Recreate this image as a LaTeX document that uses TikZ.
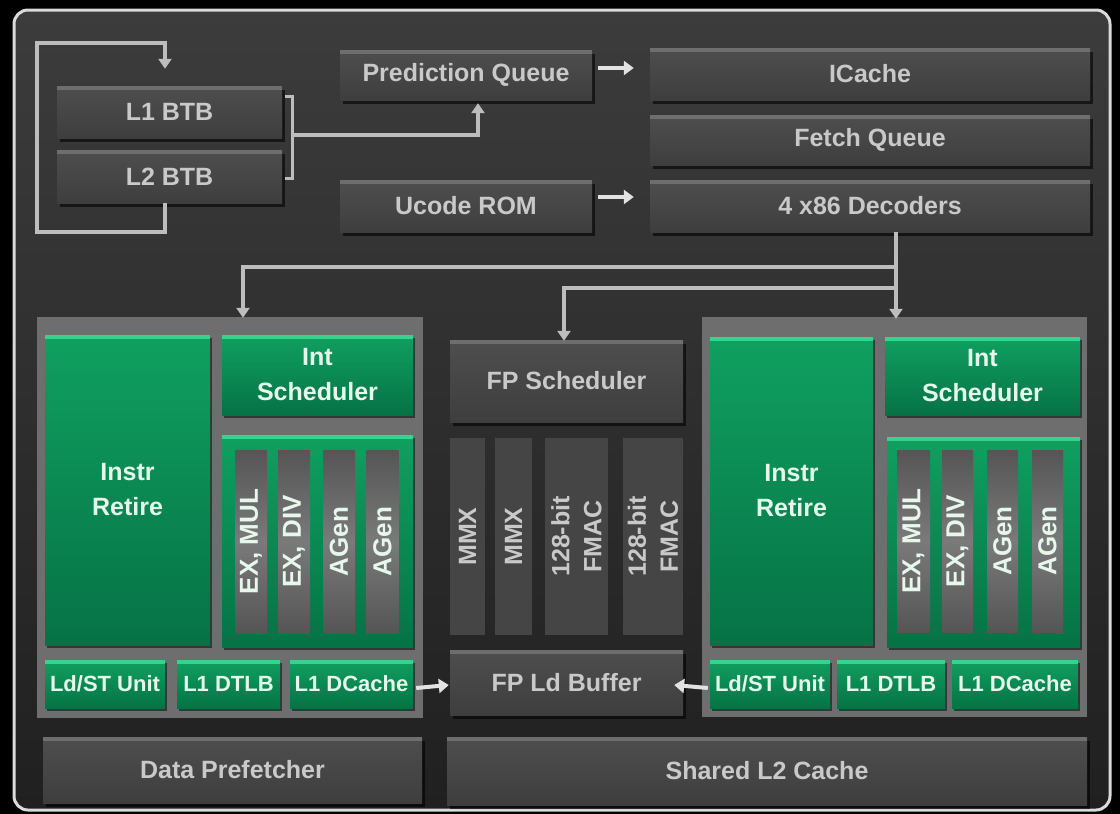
\documentclass[tikz,border=0pt]{standalone}
\usepackage{fontspec}
\setmainfont{Liberation Sans}
\usetikzlibrary{arrows.meta,shadows}
\definecolor{frameC}{HTML}{DADADA}
\definecolor{bgT}{HTML}{3C3C3C}
\definecolor{bgB}{HTML}{202020}
\definecolor{boxT}{HTML}{4E4E4E}
\definecolor{boxB}{HTML}{3E3E3E}
\definecolor{boxHL}{HTML}{6E6E6E}
\definecolor{txtG}{HTML}{C9C9C9}
\definecolor{grT}{HTML}{10A060}
\definecolor{grB}{HTML}{067246}
\definecolor{grHL}{HTML}{35D38C}
\definecolor{txtW}{HTML}{E6F7EC}
\definecolor{cluC}{HTML}{6E6E6E}
\definecolor{barM}{HTML}{7A7A7A}
\definecolor{barE}{HTML}{555555}
\definecolor{fbarC}{HTML}{454545}
\definecolor{lineC}{HTML}{BDBDBD}
\definecolor{arrW}{HTML}{E2E2E2}
\begin{document}
\begin{tikzpicture}[x=1pt,y=-1pt,
  base/.style={rectangle, inner sep=0pt, align=center, font=\bfseries\fontsize{25}{27}\selectfont},
  gbox/.style={base, top color=boxT, bottom color=boxB, text=txtG,
    drop shadow={shadow xshift=3pt,shadow yshift=-4pt,opacity=0.6,fill=black},
    path picture={\fill[boxHL] (path picture bounding box.north west) rectangle ([yshift=-4pt]path picture bounding box.north east);}},
  gnbox/.style={base, top color=grT, bottom color=grB, text=txtW,
    drop shadow={shadow xshift=2pt,shadow yshift=-3pt,opacity=0.5,fill=black},
    path picture={\fill[grHL] (path picture bounding box.north west) rectangle ([yshift=-4pt]path picture bounding box.north east);}},
  small/.style={font=\bfseries\fontsize{22}{24}\selectfont},
  twoline/.style={font=\bfseries\fontsize{25}{35}\selectfont},
  clu/.style={rectangle, inner sep=0pt, fill=cluC},
  ibar/.style={base, rotate=90, top color=barE, bottom color=barE, middle color=barM, text=txtW,
    font=\bfseries\fontsize{26}{28}\selectfont},
  fbar/.style={base, rotate=90, fill=fbarC, text=txtG, font=\bfseries\fontsize{25}{32}\selectfont},
  conn/.style={draw=lineC, line width=4pt},
  tip/.style={-{Triangle[length=10pt,width=13pt]}},
  wconn/.style={draw=arrW, line width=4pt, -{Triangle[length=10pt,width=14pt]}}
]
\useasboundingbox (0,0) rectangle (1120,814);
\fill[black] (0,0) rectangle (1120,814);
\draw[draw=frameC, line width=3pt, rounded corners=14pt, top color=bgT, bottom color=bgB] (14,10) rectangle (1110,810);

% front end
\node[gbox, minimum width=225, minimum height=52] (l1btb) at (169.5,112) {L1 BTB};
\node[gbox, minimum width=225, minimum height=53] (l2btb) at (169.5,176.5) {L2 BTB};
\node[gbox, minimum width=252, minimum height=50] (pq) at (466,75) {Prediction Queue};
\node[gbox, minimum width=440, minimum height=52] (ic) at (870,74) {ICache};
\node[gbox, minimum width=440, minimum height=50] (fq) at (870,140) {Fetch Queue};
\node[gbox, minimum width=252, minimum height=52] (uc) at (466,206) {Ucode ROM};
\node[gbox, minimum width=440, minimum height=52] (dec) at (870,206) {4 x86 Decoders};

% clusters
\node[clu, minimum width=386, minimum height=401] (lclu) at (230,517.5) {};
\node[clu, minimum width=385, minimum height=400] (rclu) at (894.5,517) {};

% left cluster
\node[gnbox, twoline, minimum width=165, minimum height=310] (lir) at (127.5,490) {Instr\\Retire};
\node[gnbox, twoline, minimum width=191, minimum height=80] (lis) at (317.5,375) {Int\\Scheduler};
\node[gnbox, minimum width=191, minimum height=212] (lex) at (317.5,541) {};
\node[ibar, minimum width=183, minimum height=32] (lb1) at (251,541.5) {EX, MUL};
\node[ibar, minimum width=183, minimum height=32] (lb2) at (294,541.5) {EX, DIV};
\node[ibar, minimum width=183, minimum height=32] (lb3) at (339,541.5) {AGen};
\node[ibar, minimum width=183, minimum height=32] (lb4) at (382.5,541.5) {AGen};
\node[gnbox, small, minimum width=120, minimum height=48] (lls) at (105,684) {Ld/ST Unit};
\node[gnbox, small, minimum width=103, minimum height=48] (ldt) at (228.5,684) {L1 DTLB};
\node[gnbox, small, minimum width=123, minimum height=48] (ldc) at (351.5,684) {L1 DCache};

% right cluster
\node[gnbox, twoline, minimum width=163, minimum height=308] (rir) at (791.5,491) {Instr\\Retire};
\node[gnbox, twoline, minimum width=195, minimum height=78] (ris) at (982.5,376) {Int\\Scheduler};
\node[gnbox, minimum width=193, minimum height=210] (rex) at (983.5,542) {};
\node[ibar, minimum width=182, minimum height=33] (rb1) at (913.5,541) {EX, MUL};
\node[ibar, minimum width=182, minimum height=31] (rb2) at (957.5,541) {EX, DIV};
\node[ibar, minimum width=182, minimum height=31] (rb3) at (1002.5,541) {AGen};
\node[ibar, minimum width=182, minimum height=31] (rb4) at (1047.5,541) {AGen};
\node[gnbox, small, minimum width=120, minimum height=48] (rls) at (770,684) {Ld/ST Unit};
\node[gnbox, small, minimum width=108, minimum height=48] (rdt) at (891,684) {L1 DTLB};
\node[gnbox, small, minimum width=126, minimum height=48] (rdc) at (1015,684) {L1 DCache};

% FP
\node[gbox, minimum width=233, minimum height=82] (fps) at (566.5,381) {FP Scheduler};
\node[fbar, minimum width=197, minimum height=35] (fb1) at (467.5,536.5) {MMX};
\node[fbar, minimum width=197, minimum height=37] (fb2) at (513.5,536.5) {MMX};
\node[fbar, minimum width=197, minimum height=63] (fb3) at (576.5,536.5) {128-bit\\FMAC};
\node[fbar, minimum width=197, minimum height=60] (fb4) at (653,536.5) {128-bit\\FMAC};
\node[gbox, minimum width=233, minimum height=65] (fpld) at (566.5,682.5) {FP Ld Buffer};

% bottom
\node[gbox, minimum width=379, minimum height=66] (dpf) at (232.5,770) {Data Prefetcher};
\node[gbox, minimum width=640, minimum height=68] (l2c) at (767,771) {Shared L2 Cache};

% connectors
\coordinate (lpA) at (37,232);
\coordinate (lpB) at (37,43);
\coordinate (lpC) at (165,43);
\draw[conn, tip] ([xshift=-4.5pt]l2btb.south) |- (lpA) -- (lpB) -- (lpC) -- ([xshift=-4.5pt,yshift=17pt]l1btb.north);
\draw[draw=lineC, line width=3pt] (285,96) -- (292,96) -- (292,178) -- (285,178);
\coordinate (brk) at (292,135);
\draw[conn, tip] (brk) -| ([xshift=12pt,yshift=-3pt]pq.south);
\draw[wconn] ([xshift=6pt,yshift=7pt]pq.east) -- ([xshift=-16pt,yshift=6pt]ic.west);
\draw[wconn] ([xshift=6pt,yshift=9pt]uc.east) -- ([xshift=-16pt,yshift=9pt]dec.west);
\coordinate (j1) at (896,267);
\coordinate (j2) at (896,288);
\draw[conn, tip] ([xshift=26pt]dec.south) -- ([xshift=1.5pt,yshift=-2pt]rclu.north);
\draw[conn, tip] (j1) -| ([xshift=13pt,yshift=-1pt]lclu.north);
\draw[conn, tip] (j2) -| ([xshift=-2.5pt,yshift=-1pt]fps.north);
\draw[wconn] ([xshift=3pt,yshift=-4pt]ldc.east) -- ([xshift=-1pt,yshift=-2.5pt]fpld.west);
\draw[wconn] ([xshift=-2pt,yshift=-4pt]rls.west) -- ([xshift=-9pt,yshift=-2.5pt]fpld.east);
\end{tikzpicture}
\end{document}
